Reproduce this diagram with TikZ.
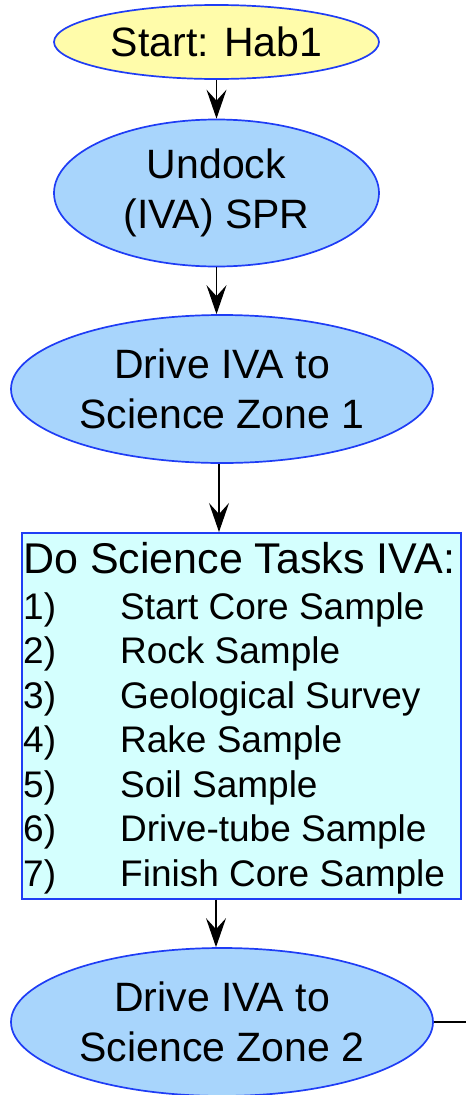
\documentclass[tikz,border=0pt]{standalone}
\usepackage{fontspec}
\setmainfont{Liberation Sans}
\usetikzlibrary{shapes.geometric,arrows.meta}

\definecolor{edgeblue}{HTML}{1F3DF5}
\definecolor{startfill}{HTML}{FFFCAA}
\definecolor{stepfill}{HTML}{A8D5FC}
\definecolor{taskfill}{HTML}{D4FFFE}

\tikzset{
  startnode/.style={ellipse, draw=edgeblue, line width=1.7pt, fill=startfill,
    inner sep=0pt, align=center, font=\fontsize{41}{48}\selectfont},
  stepnode/.style={ellipse, draw=edgeblue, line width=1.7pt, fill=stepfill,
    inner sep=0pt, align=center, font=\fontsize{41}{50}\selectfont},
  taskbox/.style={rectangle, draw=edgeblue, line width=1.7pt, fill=taskfill,
    inner sep=0pt},
  tasktitle/.style={anchor=base west, inner sep=0pt, font=\fontsize{43}{48}\selectfont},
  taskitem/.style={anchor=base west, inner sep=0pt, font=\fontsize{37}{44}\selectfont},
  flow/.style={draw=black, line width=1.3pt,
    -{Stealth[length=29pt,width=20pt,inset=11pt]}},
  plainline/.style={draw=black, line width=1.3pt}
}

\begin{document}
\begin{tikzpicture}[x=1pt,y=-1pt]
  \useasboundingbox (0,0) rectangle (466,1095);

  % flow nodes
  \node[startnode, minimum width=325pt, minimum height=74pt] (start) at (216.5,42) {Start: Hab1};
  \node[stepnode, minimum width=325pt, minimum height=147pt] (undock) at (216.5,193) {Undock\\(IVA) SPR};
  \node[stepnode, minimum width=422pt, minimum height=148pt] (zone1) at (222,389) {Drive IVA to\\Science Zone 1};
  \node[taskbox, minimum width=439pt, minimum height=366pt, anchor=north west] (tasks) at (21,532) {};
  \node[stepnode, minimum width=422pt, minimum height=148pt] (zone2) at (222,1022) {Drive IVA to\\Science Zone 2};

  % task list inside the box
  \node[tasktitle] (t0) at (23,573) {Do Science Tasks IVA:};
  \foreach \n/\txt [count=\i from 0] in {1/Start Core Sample, 2/Rock Sample, 3/Geological Survey,
      4/Rake Sample, 5/Soil Sample, 6/Drive-tube Sample, 7/Finish Core Sample} {
    \node[taskitem] (n\n) at (23,619+44.5*\i) {\n)};
    \node[taskitem] (s\n) at (120,619+44.5*\i) {\txt};
  }

  % connectors
  \coordinate (exit) at (466,1022);
  \draw[flow] (start.south) -- (undock.north);
  \draw[flow] (undock.south) -- (zone1.north -| undock.south);
  \draw[flow] (zone1.south -| 219,0) -- (tasks.north -| 219,0);
  \draw[flow] (tasks.south -| 216,0) -- (zone2.north -| 216,0);
  \draw[plainline] (zone2.east) -- (exit);
\end{tikzpicture}
\end{document}
